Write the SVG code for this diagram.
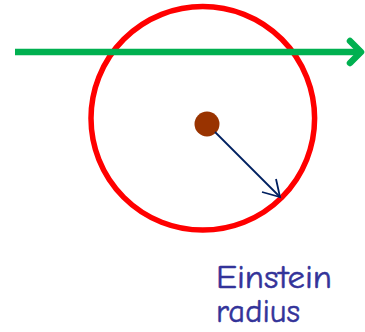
<svg xmlns="http://www.w3.org/2000/svg" width="365" height="332" viewBox="0 0 365 332">
<style>
.lbl{font-family:"Comic Neue","Open Sans","DejaVu Sans",sans-serif;font-size:32px;fill:#333399;stroke:#333399;stroke-width:0.5}
</style>
<rect width="365" height="332" fill="#ffffff"/>
<g id="lens-circle">
<circle cx="202.8" cy="118.3" r="111.8" fill="none" stroke="#ff0000" stroke-width="5.5"/>
</g>
<g id="lens-mass">
<circle cx="207" cy="124" r="12.5" fill="#993300"/>
</g>
<g id="connectors">
<g id="light-ray">
<line x1="15" y1="52" x2="359" y2="52" stroke="#00b050" stroke-width="6.5"/>
<polyline points="350,41 361,52 350,63" fill="none" stroke="#00b050" stroke-width="6.5" stroke-linecap="round" stroke-linejoin="round"/>
</g>
<g id="radius-arrow">
<line x1="215" y1="132" x2="280" y2="197" stroke="#002060" stroke-width="1.8"/>
<polyline points="276,179 280,197 262,192" fill="none" stroke="#002060" stroke-width="1.8" stroke-linejoin="miter"/>
</g>
</g>
<g id="label">
<text class="lbl" x="216" y="288" textLength="116" lengthAdjust="spacingAndGlyphs">Einstein</text>
<text class="lbl" x="216" y="322" textLength="84" lengthAdjust="spacingAndGlyphs">radius</text>
</g>
</svg>
